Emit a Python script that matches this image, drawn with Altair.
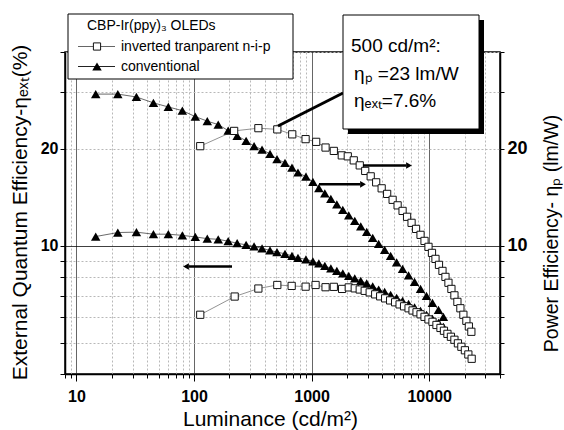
import altair as alt
import pandas as pd

FONT = "Liberation Sans"

# ---- data (luminance in cd/m2) ----
conv_L = [14.6, 22.5, 32.4, 45.2, 60.5, 79.6, 102.6, 129.7, 160.7, 195.3, 232.8, 277.5, 324.3, 379, 443,
          508, 594, 681, 766, 895, 1026, 1153, 1296, 1458, 1639, 1842, 2070, 2328, 2618, 2942, 3308,
          3718, 4180, 4699, 5284, 5937, 6676, 7506, 8440, 9484, 10660, 11995, 13210]
conv_pe = [29.6, 29.6, 29.0, 27.8, 27.0, 26.3, 25.2, 24.4, 23.8, 22.8, 21.96, 21.2, 20.4, 19.9, 19.3,
           18.6, 18.1, 17.5, 16.9, 16.4, 15.8, 15.1, 14.55, 14.0, 13.45, 12.94, 12.43, 11.96, 11.5, 11.05,
           10.59, 10.14, 9.72, 9.31, 8.89, 8.48, 8.10, 7.73, 7.35, 6.99, 6.65, 6.33, 6.02]
conv_eqe = [10.69, 11.0, 11.03, 10.87, 10.87, 10.78, 10.66, 10.53, 10.48, 10.34, 10.19, 10.07, 9.96, 9.82,
            9.68, 9.56, 9.45, 9.31, 9.18, 9.08, 8.95, 8.82, 8.67, 8.51, 8.36, 8.21, 8.07, 7.93, 7.79, 7.65,
            7.48, 7.32, 7.20, 7.04, 6.90, 6.75, 6.61, 6.44, 6.28, 6.11, 5.93, 5.77, 5.60]

inv_pe_L = [113, 219.5, 352.7, 511, 684.7, 889, 1094, 1314, 1545, 1806, 2031, 2283, 2567, 2858, 3181,
            3541, 3943, 4390, 4887, 5388, 5937, 6484, 7080, 7730, 8440, 9125, 9865, 10560, 11310, 12110,
            12970, 13750, 14580, 15450, 16390, 17370, 18420, 19530, 20710, 21740, 22830]
inv_pe = [20.4, 22.75, 23.2, 23.0, 22.2, 21.45, 21.04, 20.2, 19.72, 19.1, 18.97, 18.43, 17.78, 17.09,
          16.44, 15.75, 15.09, 14.5, 13.9, 13.36, 12.84, 12.31, 11.79, 11.29, 10.82, 10.36, 9.93, 9.51,
          9.11, 8.73, 8.36, 8.01, 7.68, 7.35, 7.02, 6.70, 6.40, 6.11, 5.85, 5.62, 5.41]

inv_eqe_L = [113, 221.7, 352.7, 511, 676.9, 889.5, 1081, 1314, 1545, 1817, 2070, 2328, 2567, 2829, 3119,
             3473, 3828, 4221, 4654, 5131, 5602, 6114, 6676, 7219, 7806, 8440, 9125, 9865, 10670, 11530,
             12470, 13350, 14290, 15300, 16390, 17550, 18780, 20120, 21530, 22970]
inv_eqe = [6.11, 6.96, 7.37, 7.56, 7.51, 7.47, 7.56, 7.44, 7.46, 7.35, 7.43, 7.38, 7.32, 7.25, 7.17,
           7.07, 6.97, 6.87, 6.77, 6.68, 6.58, 6.49, 6.40, 6.30, 6.22, 6.13, 6.02, 5.91, 5.81, 5.68,
           5.56, 5.45, 5.33, 5.22, 5.11, 4.98, 4.86, 4.74, 4.60, 4.46]

x_major = [10, 100, 1000, 10000]
x_minor = [8, 9, 20, 30, 40, 50, 60, 70, 80, 90, 200, 300, 400, 500, 600, 700, 800, 900,
           2000, 3000, 4000, 5000, 6000, 7000, 8000, 9000, 20000, 30000, 40000]
y_major = [10, 20]
y_minor = [4, 5, 6, 7, 8, 9, 30, 40]

legend_title = "CBP-Ir(ppy)\u2083  OLEDs"
legend_labels = ["inverted tranparent n-i-p", "conventional"]
note_lines = ["500 cd/m\u00b2:", "\u03b7\u209a =23 lm/W", "\u03b7\u2091\u2093\u209c=7.6%"]

x_title = "Luminance (cd/m\u00b2)"
left_title = "External Quantum Efficiency-\u03b7\u2091\u2093\u209c(%)"
right_title = "Power Efficiency- \u03b7\u209a (lm/W)"

# ---- tables ----
conv_df = pd.DataFrame({"L": conv_L, "pe": conv_pe, "eqe": conv_eqe})
inv_pe_df = pd.DataFrame({"L": inv_pe_L, "pe": inv_pe})
inv_eqe_df = pd.DataFrame({"L": inv_eqe_L, "eqe": inv_eqe})
one = pd.DataFrame({"k": [0]})

x_ticks = sorted(x_major + x_minor)
y_ticks = sorted(y_major + y_minor)
xm_test = "indexof([" + ",".join(str(v) for v in x_major) + "], datum.value) >= 0"
ym_test = "indexof([" + ",".join(str(v) for v in y_major) + "], datum.value) >= 0"

X = alt.X(
    "L:Q",
    scale=alt.Scale(type="log", domain=[8, 40000], nice=False),
    axis=alt.Axis(
        values=x_ticks, format="d",
        labelExpr=f"{xm_test} ? datum.label : ''",
        labelFontSize=16, labelFontWeight="bold", labelPadding=7, labelFlush=False,
        tickSize={"condition": {"test": xm_test, "value": 7}, "value": 4},
        grid=True,
        gridColor={"condition": {"test": xm_test, "value": "#333333"}, "value": "#b8b8b8"},
        gridDash={"condition": {"test": xm_test, "value": [1, 0]}, "value": [2, 2]},
        gridWidth=1,
        title=x_title, titleFontSize=21, titleFontWeight="normal",
        titleX=205, titleY=51, titleAlign="center", titleBaseline="alphabetic",
    ),
)

left_axis = alt.Axis(
    orient="left", values=y_ticks, format="d",
    labelExpr=f"{ym_test} ? datum.label : ''",
    labelFontSize=16, labelFontWeight="bold", labelPadding=2,
    tickSize=5, grid=True,
    gridColor={"condition": {"test": "datum.value == 10", "value": "#000000"}, "value": "#b8b8b8"},
    gridDash={"condition": {"test": "datum.value == 10", "value": [1, 0]}, "value": [2, 2]},
    gridWidth=1,
    title=left_title, titleFontSize=21, titleFontWeight="normal",
    titleAngle=270, titleX=-45, titleY=160, titleAlign="center", titleBaseline="middle",
)
right_axis = alt.Axis(
    orient="right", values=y_ticks, format="d",
    labelExpr=f"{ym_test} ? datum.label : ''",
    labelFontSize=18, labelFontWeight="bold", labelPadding=3,
    tickSize=4, grid=False,
    title=right_title, titleFontSize=19.5, titleFontWeight="normal",
    titleAngle=270, titleX=51, titleY=181, titleAlign="center", titleBaseline="middle",
)


def Y(field, axis):
    return alt.Y(f"{field}:Q", scale=alt.Scale(type="log", domain=[4, 40], nice=False), axis=axis)


line_style = dict(strokeWidth=0.8)
l1 = alt.Chart(conv_df).mark_line(color="#444", **line_style).encode(x=X, y=Y("eqe", left_axis))
l2 = alt.Chart(conv_df).mark_line(color="#444", **line_style).encode(x=X, y=Y("pe", right_axis))
l3 = alt.Chart(inv_eqe_df).mark_line(color="#777", **line_style).encode(x=X, y=Y("eqe", None))
l4 = alt.Chart(inv_pe_df).mark_line(color="#777", **line_style).encode(x=X, y=Y("pe", None))

tri = dict(shape="triangle-up", filled=True, color="black", size=90, opacity=1)
sq = dict(shape="square", filled=True, fill="white", stroke="#111", strokeWidth=1, size=52, opacity=1)
p1 = alt.Chart(conv_df).mark_point(**tri).encode(x=X, y=Y("eqe", None))
p2 = alt.Chart(conv_df).mark_point(**tri).encode(x=X, y=Y("pe", None))
p3 = alt.Chart(inv_eqe_df).mark_point(**sq).encode(x=X, y=Y("eqe", None))
p4 = alt.Chart(inv_pe_df).mark_point(**sq).encode(x=X, y=Y("pe", None))

base = alt.Chart(one)

# legend box
leg_box = base.mark_rect(fill="white", stroke="black", strokeWidth=1).encode(
    x=alt.value(3), x2=alt.value(228), y=alt.value(-38), y2=alt.value(27))
leg_title = base.mark_text(text=legend_title, align="left", baseline="alphabetic",
                           fontSize=14, font=FONT).encode(x=alt.value(22), y=alt.value(-22))
leg_line1 = base.mark_rule(color="#666", strokeWidth=1).encode(
    x=alt.value(13), x2=alt.value(50), y=alt.value(-5.5))
leg_pt1 = base.mark_point(**sq).encode(x=alt.value(32), y=alt.value(-5.5))
leg_txt1 = base.mark_text(text=legend_labels[0], align="left", baseline="middle",
                          fontSize=14, font=FONT).encode(x=alt.value(56), y=alt.value(-5.5))
leg_line2 = base.mark_rule(color="#222", strokeWidth=1).encode(
    x=alt.value(13), x2=alt.value(50), y=alt.value(14.5))
leg_pt2 = base.mark_point(**tri).encode(x=alt.value(32), y=alt.value(14.5))
leg_txt2 = base.mark_text(text=legend_labels[1], align="left", baseline="middle",
                          fontSize=14, font=FONT).encode(x=alt.value(56), y=alt.value(14.5))

# annotation box with shadow
note_shadow = base.mark_rect(fill="black").encode(
    x=alt.value(283), x2=alt.value(419), y=alt.value(-32), y2=alt.value(82))
note_box = base.mark_rect(fill="white", stroke="black", strokeWidth=1).encode(
    x=alt.value(278), x2=alt.value(414), y=alt.value(-37), y2=alt.value(77))
note_t1 = base.mark_text(text=note_lines[0], align="left", baseline="alphabetic",
                         fontSize=19, font=FONT).encode(x=alt.value(286), y=alt.value(0))
note_t2 = base.mark_text(text=note_lines[1], align="left", baseline="alphabetic",
                         fontSize=19, font=FONT).encode(x=alt.value(289), y=alt.value(28))
note_t3 = base.mark_text(text=note_lines[2], align="left", baseline="alphabetic",
                         fontSize=19, font=FONT).encode(x=alt.value(289), y=alt.value(55))
pointer = base.mark_rule(color="black", strokeWidth=3).encode(
    x=alt.value(213), y=alt.value(74), x2=alt.value(278), y2=alt.value(41))

# arrows
arr1 = base.mark_rule(color="black", strokeWidth=2.5).encode(
    x=alt.value(124), x2=alt.value(167), y=alt.value(214.5))
arr1h = base.mark_point(shape="triangle-left", filled=True, color="black", size=45, opacity=1).encode(
    x=alt.value(121), y=alt.value(214.5))
arr2 = base.mark_rule(color="black", strokeWidth=2.5).encode(
    x=alt.value(298), x2=alt.value(341), y=alt.value(113.5))
arr2h = base.mark_point(shape="triangle-right", filled=True, color="black", size=45, opacity=1).encode(
    x=alt.value(344), y=alt.value(113.5))
arr3 = base.mark_rule(color="black", strokeWidth=2.5).encode(
    x=alt.value(254), x2=alt.value(295), y=alt.value(132.3))
arr3h = base.mark_point(shape="triangle-right", filled=True, color="black", size=45, opacity=1).encode(
    x=alt.value(298), y=alt.value(132.3))

chart = alt.layer(
    l1, l2, l3, l4, p1, p2, p3, p4,
    arr1, arr1h, arr2, arr2h, arr3, arr3h, pointer,
    leg_box, leg_title, leg_line1, leg_pt1, leg_txt1, leg_line2, leg_pt2, leg_txt2,
    note_shadow, note_box, note_t1, note_t2, note_t3,
).resolve_scale(y="independent").properties(
    width=435, height=322,
    padding={"left": 65, "top": 52, "right": 64, "bottom": 56},
    autosize=alt.AutoSizeParams(type="none"),
    background="white",
).configure(font=FONT).configure_view(
    stroke="black", strokeWidth=1.5
).configure_axis(
    domainColor="black", domainWidth=1.5, tickColor="black", tickWidth=1,
    labelColor="black", titleColor="black", labelFont=FONT, titleFont=FONT,
)

chart.save("out.html", embed_options={"renderer": "svg", "actions": False})
